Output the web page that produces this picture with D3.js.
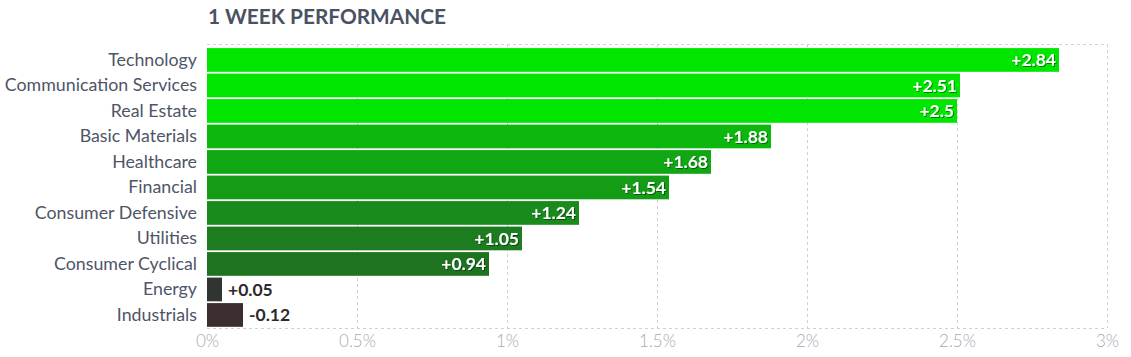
<!DOCTYPE html>
<html><head><meta charset="utf-8">
<script src="https://cdn.jsdelivr.net/npm/d3@7"></script>
<style>
html,body{margin:0;padding:0;background:#fff;}
svg{display:block;font-family:Lato, "Open Sans", sans-serif;}
</style></head>
<body>
<svg id="chart" width="1131" height="357"></svg>
<script>
const categories = ["Technology","Communication Services","Real Estate","Basic Materials","Healthcare","Financial","Consumer Defensive","Utilities","Consumer Cyclical","Energy","Industrials"];
const values = [2.84, 2.51, 2.5, 1.88, 1.68, 1.54, 1.24, 1.05, 0.94, 0.05, -0.12];
const barColors = ["#00e600","#00e600","#00e600","#0cb80e","#11a614","#149c17","#198a1c","#1d7b20","#1e7321","#313531","#3c2e2e"];
const tickValues = [0, 0.5, 1, 1.5, 2, 2.5, 3];
const tickLabels = ["0%","0.5%","1%","1.5%","2%","2.5%","3%"];
const chartTitle = "1 WEEK PERFORMANCE";

const svg = d3.select("#chart");
const x = d3.scaleLinear().domain([0, 3]).range([207, 1107]);
const y = d3.scaleBand().domain(categories).range([47.2, 327.7]).paddingInner(0.07).paddingOuter(0.035);
const plotTop = 44, plotBottom = 328;

const defs = svg.append("defs");
const f = defs.append("filter").attr("id","ts").attr("x","-10%").attr("y","-20%").attr("width","130%").attr("height","150%");
f.append("feDropShadow").attr("dx",1).attr("dy",1).attr("stdDeviation",0.6).attr("flood-color","#000").attr("flood-opacity",0.45);

svg.append("text").attr("x",208).attr("y",24).attr("font-size",20.8).attr("font-weight",700)
  .attr("fill","#4b5163").text(chartTitle);

// grid
const grid = svg.append("g").attr("stroke","#cfcfd4").attr("stroke-width",1).attr("stroke-dasharray","3,3");
grid.selectAll("line.v").data(tickValues.slice(1)).join("line")
  .attr("x1",d=>Math.round(x(d))+0.5).attr("x2",d=>Math.round(x(d))+0.5).attr("y1",plotTop).attr("y2",plotBottom);
grid.append("line").attr("x1",207).attr("x2",1107).attr("y1",plotTop+0.5).attr("y2",plotTop+0.5);
grid.append("line").attr("x1",207).attr("x2",1107).attr("y1",plotBottom+0.5).attr("y2",plotBottom+0.5);

// axis
const xAxis = d3.axisBottom(x).tickValues(tickValues).tickFormat((d,i)=>tickLabels[i]).tickSize(0).tickPadding(0);
const ax = svg.append("g").attr("transform",`translate(0,${plotBottom})`).call(xAxis);
ax.select(".domain").remove();
ax.selectAll("text").attr("font-size",17).attr("font-weight",300).attr("fill","#a9a9b3").attr("font-family","Lato, sans-serif").attr("dy",null).attr("y",19);

// category labels
const yAxis = d3.axisLeft(y).tickSize(0).tickPadding(0);
const ay = svg.append("g").attr("transform","translate(197,0)").call(yAxis);
ay.select(".domain").remove();
ay.selectAll("text").attr("font-size",17.8).attr("fill","#4e5567").attr("font-family","Lato, sans-serif");

// bars
svg.append("g").selectAll("rect").data(values).join("rect")
  .attr("x",x(0)).attr("y",(d,i)=>y(categories[i]))
  .attr("width",d=>x(Math.abs(d))-x(0)).attr("height",y.bandwidth())
  .attr("fill",(d,i)=>barColors[i]);

// value labels
const fmt = d => (d>0?"+":"") + d;
svg.append("g").selectAll("text").data(values).join("text")
  .each(function(d,i){
    const w = x(Math.abs(d))-x(0);
    const inside = w > 60;
    const t = d3.select(this);
    t.attr("y", y(categories[i]) + y.bandwidth()/2).attr("dy","0.35em")
     .attr("font-size",17.5).attr("font-weight",700).attr("font-family","Lato, sans-serif")
     .text(fmt(d));
    if (inside) {
      t.attr("x", x(Math.abs(d)) - 3).attr("text-anchor","end").attr("fill","#fff").attr("filter","url(#ts)");
    } else {
      t.attr("x", x(Math.abs(d)) + 6).attr("text-anchor","start").attr("fill","#2e2a2a");
    }
  });
</script>
</body></html>
